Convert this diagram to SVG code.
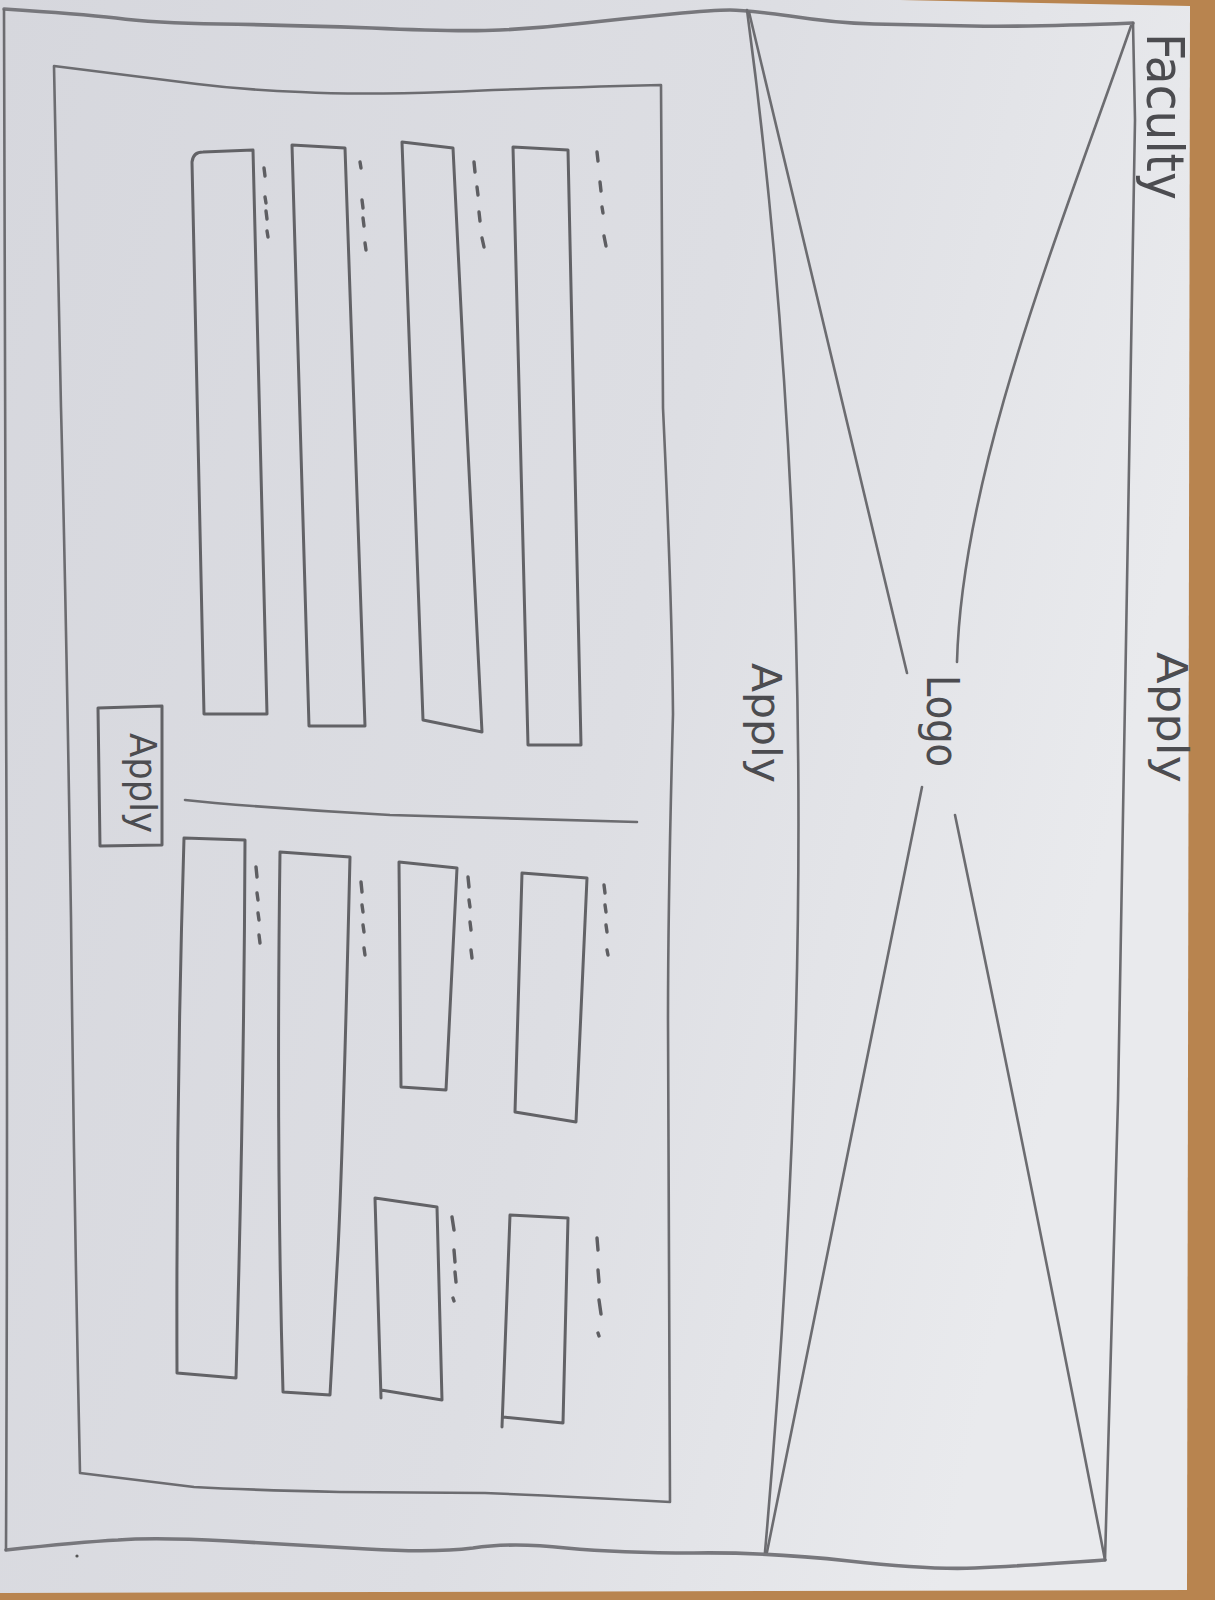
<svg xmlns="http://www.w3.org/2000/svg" width="1215" height="1600" viewBox="0 0 1215 1600">
<defs>
<linearGradient id="paper" x1="0" y1="0" x2="1" y2="0.3">
<stop offset="0" stop-color="#d6d7dd"/>
<stop offset="0.6" stop-color="#dddee3"/>
<stop offset="1" stop-color="#e9eaed"/>
</linearGradient>
<style>
.ln{fill:none;stroke:#6c6c70;stroke-width:2.6;stroke-linecap:round;stroke-linejoin:round}
.soft{fill:none;stroke:#77777c;stroke-width:3.6;stroke-linecap:round;stroke-linejoin:round}
.bar{fill:none;stroke:#626266;stroke-width:3;stroke-linecap:round;stroke-linejoin:round}
.dot{fill:none;stroke:#5e5e62;stroke-width:3.4;stroke-linecap:round}
.hw{font-family:"DejaVu Sans","Liberation Sans",sans-serif;fill:#4c4c50;font-weight:normal}
</style>
</defs>
<rect x="0" y="0" width="1215" height="1600" fill="#b8844f"/>
<path d="M0,0 L900,0 L1190,6 L1187,1590 L0,1593 Z" fill="url(#paper)"/>

<g id="page-frame">
<path class="soft" d="M4,9 Q80,14 116,18 Q153,23 220,24 Q286,25 372,28 Q459,32 500,30 Q541,28 585,23 Q630,18 672,14 Q714,10 730,10 Q745,10 790,16 Q835,23 874,24 Q914,25 972,26 Q1031,27 1133,23"/>
<path class="ln" d="M1133,23 L1135,120 Q1128,500 1125,700 Q1120,1000 1118,1100 L1105,1560"/>
<path class="soft" d="M6,1550 Q80,1542 118,1540 Q155,1537 228,1541 Q300,1545 367,1549 Q434,1553 473,1548 Q512,1542 566,1548 Q620,1553 694,1553 Q767,1552 849,1561 Q930,1570 975,1568 Q1020,1566 1105,1560"/>
<path class="ln" d="M4,10 Q6,400 6,700 Q8,1100 6,1550"/>
<circle cx="77" cy="1556" r="1.6" fill="#555"/>
</g>

<g id="faculty-label">
<text class="hw" font-size="52" textLength="167" lengthAdjust="spacingAndGlyphs" transform="translate(1147,33) rotate(90)">Faculty</text>
</g>
<g id="apply-top-label">
<text class="hw" font-size="42" textLength="131" lengthAdjust="spacingAndGlyphs" transform="translate(1157,652) rotate(90)">Apply</text>
</g>

<g id="logo-section">
<path class="ln" d="M747,10 Q840,700 765,1552"/>
<path class="ln" d="M749,12 L907,673"/>
<path class="ln" d="M1131,26 C1060,230 962,470 957,662"/>
<path class="ln" d="M922,787 L767,1552"/>
<path class="ln" d="M955,815 Q1025,1150 1105,1560"/>
<text class="hw" font-size="44" textLength="92" lengthAdjust="spacingAndGlyphs" transform="translate(927,675) rotate(90)">Logo</text>
</g>
<g id="apply-logo-label">
<text class="hw" font-size="40" textLength="120" lengthAdjust="spacingAndGlyphs" transform="translate(752,663) rotate(90)">Apply</text>
</g>

<g id="content-panel">
<path class="ln" d="M54,66 Q150,78 197,84 Q245,90 301,92 Q357,95 446,92 Q536,88 661,85 L663,408 Q672,600 673,714 Q668,900 668,1020 L670,1502 Q560,1496 485,1493 L340,1492 Q250,1490 194,1487 L80,1473 Q74,1200 71,918 Q66,600 61,408 Z"/>
<path class="ln" d="M185,800 L215,803 Q300,810 390,815 L637,822"/>
</g>

<g id="apply-button">
<path class="bar" d="M98,708 L162,706 L162,845 L100,846 Z"/>
<text class="hw" font-size="38" textLength="100" lengthAdjust="spacingAndGlyphs" transform="translate(130,733) rotate(90)">Apply</text>
</g>

<g id="top-items">
<path class="bar" d="M192,162 Q193,152 203,152 L253,150 L267,714 L204,714 Z"/>
<path class="bar" d="M292,145 L345,148 L365,726 L309,726 Z"/>
<path class="bar" d="M402,142 L453,148 L482,732 L423,720 Z"/>
<path class="bar" d="M513,147 L568,150 L581,745 L528,745 Z"/>
<path class="dot" d="M264,168 L265,176 M265,197 L266,203 M266,211 L267,219 M267,231 L268,237"/>
<path class="dot" d="M360,162 L361,168 M362,200 L363,208 M363,218 L364,226 M365,243 L366,250"/>
<path class="dot" d="M474,162 L475,172 M477,187 L478,195 M479,212 L480,221 M482,238 L484,247"/>
<path class="dot" d="M597,152 L598,161 M600,182 L601,191 M602,207 L603,213 M604,236 L606,246"/>
</g>

<g id="bottom-items">
<path class="bar" d="M184,838 L245,840 Q244,1100 236,1378 L177,1373 Q176,1100 184,838 Z"/>
<path class="bar" d="M280,852 L350,857 Q343,1150 338,1250 L330,1395 L283,1392 Q276,1150 280,852 Z"/>
<path class="bar" d="M399,862 L457,868 L446,1090 L401,1087 Z"/>
<path class="bar" d="M522,873 L587,878 L576,1122 L515,1112 Z"/>
<path class="bar" d="M381,1398 L375,1198 L437,1207 L442,1400 L381,1390"/>
<path class="bar" d="M502,1427 L510,1215 L568,1218 L563,1423 L503,1417"/>
<path class="dot" d="M256,867 L257,877 M257,893 L258,900 M258,913 L259,920 M259,935 L260,943"/>
<path class="dot" d="M361,882 L362,892 M362,905 L363,912 M363,925 L364,932 M364,948 L365,955"/>
<path class="dot" d="M468,877 L469,887 M469,900 L470,907 M470,922 L471,930 M471,950 L472,958"/>
<path class="dot" d="M604,885 L605,893 M605,905 L606,912 M606,925 L607,932 M607,950 L608,955"/>
<path class="dot" d="M452,1217 L454,1230 M454,1250 L455,1262 M455,1272 L456,1282 M453,1298 L454,1301"/>
<path class="dot" d="M597,1238 L598,1250 M598,1270 L599,1282 M599,1300 L601,1314 M598,1333 L599,1336"/>
</g>
</svg>
